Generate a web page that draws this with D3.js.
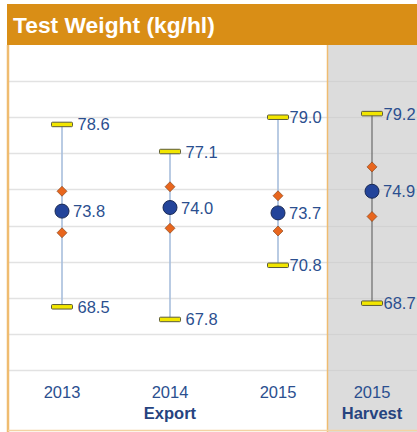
<!DOCTYPE html>
<html><head><meta charset="utf-8">
<script src="https://cdn.jsdelivr.net/npm/d3@7/dist/d3.min.js"></script>
<style>html,body{margin:0;padding:0;background:#fff;}svg{display:block;}</style>
</head><body>
<script>
const title = "Test Weight (kg/hl)";
const categories = ["2013", "2014", "2015", "2015 H"];
const yearLabels = ["2013", "2014", "2015", "2015"];
const groupLabels = [{label: "Export", cat: "2014"}, {label: "Harvest", cat: "2015 H"}];
const maxValues = [78.6, 77.1, 79.0, 79.2];
const minValues = [68.5, 67.8, 70.8, 68.7];
const meanValues = [73.8, 74.0, 73.7, 74.9];
const upperQ = [74.9, 75.15, 74.65, 76.25];
const lowerQ = [72.6, 72.85, 72.7, 73.5];
const gridTicks = [65, 67, 69, 71, 73, 75, 77, 79, 81, 83];

const W = 417, H = 432;
const svg = d3.select("body").append("svg").attr("width", W).attr("height", H);

const plotLeft = 8, plotTop = 45, plotBottom = 370, divider = 327;
const y = d3.scaleLinear().domain([65, 83]).range([plotBottom, plotTop]);
const x = d3.scalePoint().domain(categories.slice(0, 3)).range([62, 278]);
const xPos = c => c === "2015 H" ? 372 : x(c);

// backgrounds
svg.append("rect").attr("x", plotLeft).attr("y", plotTop).attr("width", W - plotLeft).attr("height", H - plotTop).attr("fill", "#ffffff");
svg.append("rect").attr("x", divider).attr("y", plotTop).attr("width", W - divider).attr("height", H - plotTop).attr("fill", "#dcdcdc");

// grid
svg.append("g").selectAll("line").data(gridTicks.slice(0, -1)).join("line")
  .attr("x1", plotLeft).attr("x2", W)
  .attr("y1", d => Math.round(y(d)) + 0.5).attr("y2", d => Math.round(y(d)) + 0.5)
  .attr("stroke", (d) => "#e2e2e2").attr("stroke-width", 1.5);
svg.append("g").selectAll("line").data(gridTicks.slice(0, -1)).join("line")
  .attr("x1", divider).attr("x2", W)
  .attr("y1", d => Math.round(y(d)) + 0.5).attr("y2", d => Math.round(y(d)) + 0.5)
  .attr("stroke", "#d2d2d2").attr("stroke-width", 1.5);

// borders
svg.append("line").attr("x1", divider + 0.5).attr("x2", divider + 0.5).attr("y1", plotTop).attr("y2", H)
  .attr("stroke", "#efbc70").attr("stroke-width", 1.5);
svg.append("line").attr("x1", plotLeft).attr("x2", plotLeft).attr("y1", plotTop).attr("y2", H)
  .attr("stroke", "#efbc70").attr("stroke-width", 2.5);
svg.append("line").attr("x1", plotLeft).attr("x2", W).attr("y1", 430.5).attr("y2", 430.5)
  .attr("stroke", "#f3d3a3").attr("stroke-width", 1.5);

// header
svg.append("rect").attr("x", 7).attr("y", 4).attr("width", W - 7).attr("height", 41).attr("fill", "#d98e16");
svg.append("text").attr("x", 13).attr("y", 33).text(title)
  .attr("font-family", "Liberation Sans, Arial, sans-serif").attr("font-weight", "bold")
  .attr("font-size", 22.8).attr("fill", "#ffffff");

const data = categories.map((c, i) => ({
  c, i, max: maxValues[i], min: minValues[i], mean: meanValues[i], uq: upperQ[i], lq: lowerQ[i]
}));

const g = svg.append("g");
// whiskers
g.selectAll("line.wh").data(data).join("line").attr("class", "wh")
  .attr("x1", d => xPos(d.c)).attr("x2", d => xPos(d.c))
  .attr("y1", d => y(d.max)).attr("y2", d => y(d.min))
  .attr("stroke", d => d.i === 3 ? "#6a6a6a" : "#a8bedc").attr("stroke-width", d => d.i === 3 ? 1.2 : 1.6);

// caps
const capW = 21, capH = 4.5;
["max", "min"].forEach(k => {
  g.selectAll("rect.cap-" + k).data(data).join("rect").attr("class", "cap-" + k)
    .attr("x", d => xPos(d.c) - capW / 2).attr("y", d => y(d[k]) - capH / 2)
    .attr("width", capW).attr("height", capH).attr("rx", 1)
    .attr("fill", "#f2e600").attr("stroke", "#5a5a3a").attr("stroke-width", 1);
  g.selectAll("text.lab-" + k).data(data).join("text").attr("class", "lab-" + k)
    .attr("x", d => xPos(d.c) + capW / 2 + (d.i < 2 ? 5 : 1))
    .attr("y", d => y(d[k]) + 6)
    .text(d => d[k].toFixed(1))
    .attr("font-family", "Liberation Sans, Arial, sans-serif").attr("font-size", 16.5).attr("fill", "#2b4f8f");
});

// diamonds
const ds = 5;
["uq", "lq"].forEach(k => {
  g.selectAll("path.dm-" + k).data(data).join("path").attr("class", "dm-" + k)
    .attr("d", d => {
      const cx = xPos(d.c), cy = y(d[k]);
      return `M${cx},${cy - ds}L${cx + ds},${cy}L${cx},${cy + ds}L${cx - ds},${cy}Z`;
    })
    .attr("fill", "#e8661e").attr("stroke", "#7a3a10").attr("stroke-width", 0.6);
});

// mean circles
g.selectAll("circle.mean").data(data).join("circle").attr("class", "mean")
  .attr("cx", d => xPos(d.c)).attr("cy", d => y(d.mean)).attr("r", 7)
  .attr("fill", "#23449a").attr("stroke", "#1a2a55").attr("stroke-width", 1);
g.selectAll("text.lab-mean").data(data).join("text").attr("class", "lab-mean")
  .attr("x", d => xPos(d.c) + 11).attr("y", d => y(d.mean) + 6)
  .text(d => d.mean.toFixed(1))
  .attr("font-family", "Liberation Sans, Arial, sans-serif").attr("font-size", 16.5).attr("fill", "#2b4f8f");

// x labels
svg.append("g").selectAll("text").data(categories).join("text")
  .attr("x", c => xPos(c)).attr("y", 398).attr("text-anchor", "middle")
  .text((c, i) => yearLabels[i])
  .attr("font-family", "Liberation Sans, Arial, sans-serif").attr("font-size", 16.5).attr("fill", "#2b4f8f");
svg.append("g").selectAll("text").data(groupLabels).join("text")
  .attr("x", d => xPos(d.cat)).attr("y", 419).attr("text-anchor", "middle")
  .text(d => d.label)
  .attr("font-family", "Liberation Sans, Arial, sans-serif").attr("font-weight", "bold").attr("font-size", 16.5).attr("fill", "#26437f");
</script>
</body></html>
